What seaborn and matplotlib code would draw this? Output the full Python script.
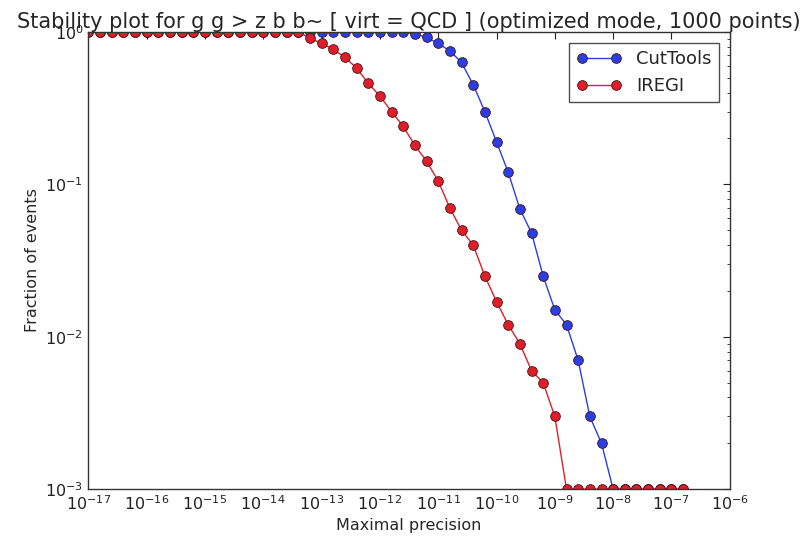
import numpy as np
import pandas as pd
import seaborn as sns
from matplotlib import pyplot as plt

# precision grid: 10^-17 ... 10^-6.8, five points per decade
exponents = np.round(np.arange(-17.0, -6.79, 0.2), 1)

cuttools = [1.0] * 28 + [
    0.97, 0.92, 0.84, 0.75, 0.63, 0.45, 0.30, 0.19, 0.12, 0.069,
    0.048, 0.025, 0.015, 0.012, 0.007, 0.003, 0.002] + [0.001] * 7

iregi = [1.0] * 19 + [
    0.91, 0.84, 0.77, 0.68, 0.58, 0.46, 0.38, 0.30, 0.24, 0.18,
    0.142, 0.105, 0.070, 0.050, 0.040, 0.025, 0.017, 0.012, 0.009,
    0.006, 0.005, 0.003] + [0.001] * 11

tools = ['CutTools', 'IREGI']
colors = {'CutTools': '#2a3ee6', 'IREGI': '#e01e2a'}

df = pd.concat([
    pd.DataFrame({'precision': 10.0 ** exponents, 'fraction': cuttools, 'tool': 'CutTools'}),
    pd.DataFrame({'precision': 10.0 ** exponents, 'fraction': iregi, 'tool': 'IREGI'}),
])

sns.set_style('white')
plt.rcParams['font.family'] = ['DejaVu Sans']

fig = plt.figure(figsize=(8.02, 5.40), dpi=100)
ax = fig.add_axes([0.11, 0.094, 0.80, 0.847])

sns.lineplot(data=df, x='precision', y='fraction', hue='tool', hue_order=tools,
             palette=colors, marker='o', markersize=7, markeredgecolor='#441111',
             markeredgewidth=0.6, linewidth=1.0, ax=ax)
# markers on the frame are cut in half, as in the original
for ln in ax.get_lines():
    ln.set_clip_on(True)
    ln.set_clip_path(ax.patch)

ax.set_xscale('log')
ax.set_yscale('log')
ax.set_xlim(1e-17, 1e-6)
ax.set_ylim(1e-3, 1)
ax.set_xticks([10.0 ** e for e in range(-17, -5)])
ax.set_yticks([1e-3, 1e-2, 1e-1, 1])

for s in ax.spines.values():
    s.set_color('#333333')
    s.set_linewidth(1.0)
ax.tick_params(which='both', direction='in', top=True, right=True, labelsize=11.5, colors='#222222')
ax.tick_params(which='major', length=5)
ax.tick_params(which='minor', length=2.5)

ax.set_xlabel('Maximal precision', fontsize=11.5)
ax.set_ylabel('Fraction of events', fontsize=11.5)
ax.set_title('Stability plot for g g > z b b~ [ virt = QCD ] (optimized mode, 1000 points)',
             fontsize=15, pad=3)

handles, labels = ax.get_legend_handles_labels()
leg = ax.legend(handles, labels, loc='upper right', numpoints=2, fontsize=13,
                frameon=True, fancybox=False, borderaxespad=0.6, handlelength=2.5)
leg.get_frame().set_edgecolor('#222222')
leg.get_frame().set_linewidth(1.0)

fig.savefig('out.png', dpi=100)
